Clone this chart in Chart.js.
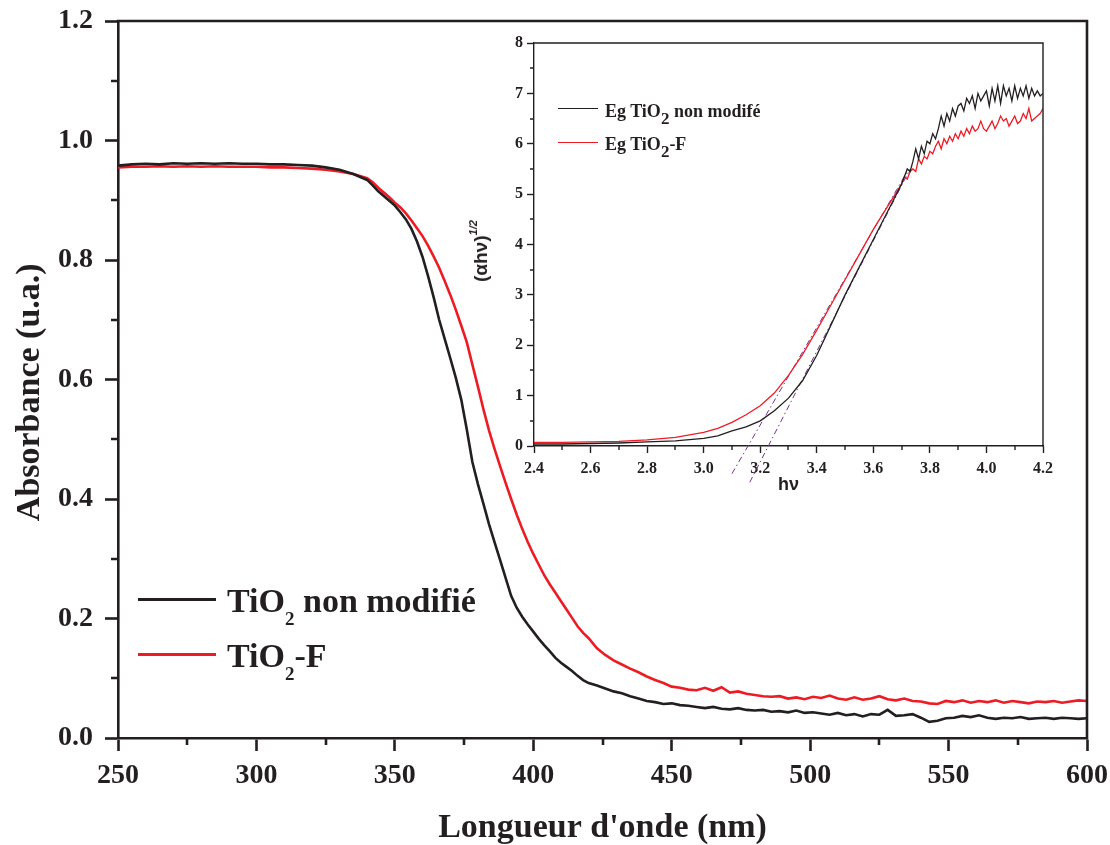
<!DOCTYPE html>
<html>
<head>
<meta charset="utf-8">
<script src="https://cdn.jsdelivr.net/npm/chart.js@4.4.0/dist/chart.umd.min.js"></script>
<style>
body { margin: 0; background: #fff; }
#wrap { position: relative; width: 1110px; height: 845px; overflow: hidden; }
#main { position: absolute; left: 0; top: 0; }
#inset { position: absolute; left: 460px; top: 25px; }
.txt { position: absolute; font-family: "Liberation Serif"; font-weight: bold; color: #231f20; white-space: nowrap; }
.ln { position: absolute; }
.big { font-size: 34px; line-height: 35px; }
.big sub { font-size: 19px; position: relative; top: 13px; vertical-align: baseline; }
.small { font-size: 18px; line-height: 18px; }
.small sub { font-size: 17px; position: relative; top: 7px; vertical-align: baseline; }
#ytitle2 { position: absolute; left: 481px; top: 251px; transform: translate(-50%, -50%) rotate(-90deg);
  font-family: "Liberation Sans"; font-weight: bold; font-size: 19px; color: #231f20; white-space: nowrap; }
#ytitle2 sup { font-size: 11px; font-style: italic; position: relative; top: -3px; vertical-align: top; }
</style>
</head>
<body>
<div id="wrap">
  <canvas id="main" width="1110" height="845"></canvas>
  <canvas id="inset" width="600" height="475"></canvas>

  <div class="ln" style="left:138px;top:598px;width:78px;height:3px;background:#231f20"></div>
  <div class="txt big" style="left:227px;top:583px">TiO<sub>2</sub> non modifié</div>
  <div class="ln" style="left:138px;top:653px;width:78px;height:3px;background:#ed1c24"></div>
  <div class="txt big" style="left:227px;top:638px">TiO<sub>2</sub>-F</div>

  <div class="ln" style="left:558px;top:108px;width:40px;height:1.4px;background:#231f20"></div>
  <div class="txt small" style="left:605px;top:102px">Eg TiO<sub>2</sub> non modifé</div>
  <div class="ln" style="left:558px;top:142px;width:40px;height:1.4px;background:#ed1c24"></div>
  <div class="txt small" style="left:605px;top:135px">Eg TiO<sub>2</sub>-F</div>

  <div id="ytitle2">(&alpha;h&nu;)<sup>1/2</sup></div>
</div>

<script>
// spectre UV-Vis (nm)
var wavelength = [250,255,260,265,270,275,280,285,290,295,300,305,310,315,320,325,330,335,340,
	342,344,346,348,350,352,354,356,358,360,362,364,366,368,370,372,374,376,378,380,
	382,384,386,388,390,392,394,396,398,400,402,404,406,408,410,412,414,416,418,420,
	423,426,429,432,435,438,441,444,447,450,453,456,459,462,465,468,471,474,477,480,
	483,486,489,492,495,498,501,504,507,510,513,516,519,522,525,528,531,534,537,540,
	543,546,549,552,555,558,561,564,567,570,573,576,579,582,585,588,591,594,597,600];

var absNonModifie = [0.958,0.960,0.961,0.960,0.962,0.961,0.962,0.961,0.962,0.961,0.961,0.960,0.960,0.959,0.958,0.955,0.951,0.944,0.934,
	0.925,0.915,0.907,0.899,0.891,0.880,0.868,0.852,0.831,0.805,0.773,0.738,0.700,0.668,0.636,0.603,0.566,0.516,0.462,0.425,
	0.392,0.358,0.328,0.298,0.268,0.238,0.218,0.203,0.190,0.178,0.166,0.155,0.145,0.134,0.126,0.119,0.112,0.104,0.097,0.092,
	0.088,0.083,0.078,0.075,0.070,0.066,0.062,0.060,0.057,0.058,0.055,0.054,0.052,0.050,0.052,0.049,0.048,0.050,0.047,0.046,
	0.047,0.044,0.045,0.043,0.046,0.042,0.043,0.041,0.039,0.042,0.038,0.040,0.036,0.040,0.039,0.047,0.037,0.038,0.040,0.034,
	0.027,0.029,0.033,0.034,0.037,0.035,0.038,0.034,0.032,0.034,0.033,0.035,0.032,0.033,0.034,0.032,0.034,0.033,0.032,0.033];

var absF = [0.955,0.956,0.956,0.957,0.956,0.957,0.956,0.957,0.956,0.956,0.956,0.955,0.955,0.954,0.953,0.951,0.948,0.944,0.937,
	0.930,0.921,0.913,0.905,0.896,0.888,0.878,0.866,0.853,0.840,0.824,0.806,0.787,0.765,0.742,0.717,0.690,0.662,0.625,0.588,
	0.550,0.515,0.484,0.455,0.427,0.400,0.374,0.350,0.328,0.308,0.290,0.272,0.257,0.243,0.229,0.215,0.201,0.187,0.176,0.167,
	0.150,0.139,0.130,0.123,0.116,0.110,0.103,0.097,0.092,0.086,0.084,0.081,0.080,0.084,0.079,0.085,0.076,0.078,0.074,0.072,
	0.070,0.069,0.070,0.066,0.068,0.065,0.069,0.067,0.071,0.066,0.064,0.068,0.064,0.066,0.070,0.065,0.063,0.066,0.062,0.061,
	0.058,0.057,0.062,0.060,0.063,0.059,0.062,0.060,0.063,0.059,0.062,0.060,0.058,0.061,0.060,0.062,0.059,0.061,0.063,0.062];

// encart : (alpha h nu)^1/2 en fonction de h nu (eV)
var energie = [2.40,2.50,2.60,2.70,2.80,2.90,3.00,3.05,3.10,3.15,3.20,3.25,3.30,3.35,3.40,3.45,3.50,3.55,3.60,3.65,
	3.70,3.71,3.72,3.73,3.74,3.75,3.76,3.77,3.78,3.79,3.80,3.81,3.82,3.83,3.84,3.85,3.86,3.87,3.88,3.89,
	3.90,3.91,3.92,3.93,3.94,3.95,3.96,3.97,3.98,3.99,4.00,4.01,4.02,4.03,4.04,4.05,4.06,4.07,4.08,4.09,
	4.10,4.11,4.12,4.13,4.14,4.15,4.16,4.17,4.18,4.19,4.20];

var egNonModifie = [0.04,0.04,0.05,0.06,0.08,0.10,0.15,0.20,0.30,0.38,0.50,0.70,0.95,1.30,1.80,2.40,3.00,3.55,4.10,4.65,
	5.20,5.35,5.50,5.45,5.65,5.90,5.70,5.95,5.80,6.05,6.00,6.20,6.10,6.30,6.55,6.35,6.60,6.45,6.70,6.55,
	6.75,6.80,6.65,6.90,6.80,6.95,6.70,7.00,6.85,6.95,7.05,6.75,7.10,6.85,7.15,6.80,7.15,6.95,7.10,6.85,
	7.15,6.90,7.10,6.95,7.15,6.90,7.10,6.95,7.05,6.95,7.00];

var egF = [0.07,0.07,0.08,0.09,0.12,0.17,0.27,0.35,0.47,0.62,0.80,1.05,1.40,1.82,2.30,2.80,3.30,3.80,4.30,4.75,
	5.20,5.35,5.30,5.45,5.50,5.45,5.70,5.60,5.75,5.70,5.85,5.80,5.95,6.05,5.90,6.10,6.00,6.15,6.05,6.20,
	6.10,6.25,6.15,6.30,6.20,6.35,6.25,6.30,6.45,6.30,6.25,6.35,6.45,6.30,6.40,6.55,6.45,6.50,6.35,6.45,
	6.55,6.40,6.45,6.60,6.50,6.70,6.45,6.50,6.55,6.60,6.70];

// tangentes (extrapolation du gap)
var tangenteF_x = [3.10, 3.72];
var tangenteF_y = [-0.55, 5.45];
var tangenteNM_x = [3.163, 3.73];
var tangenteNM_y = [-0.72, 5.50];

var mainMinorX = [275,325,375,425,475,525,575];
var mainMinorY = [0.1,0.3,0.5,0.7,0.9,1.1];
var insetMinorX = [2.5,2.7,2.9,3.1,3.3,3.5,3.7,3.9,4.1];
var insetMinorY = [0.5,1.5,2.5,3.5,4.5,5.5,6.5,7.5];

var axisColor = '#231f20';

function pts(xs, ys) {
	var out = [];
	for (var i = 0; i < xs.length; i++) {
		out.push({x: xs[i], y: ys[i]});
	}
	return out;
}

// pas de marge automatique pour les libellés : la zone de tracé reste fixe
function noPad(s) {
	s.paddingTop = 0;
	s.paddingBottom = 0;
	s.paddingLeft = 0;
	s.paddingRight = 0;
}

// cadre + petites graduations
var boxTicks = {
	id: 'boxTicks',
	afterDraw: function(chart, args, o) {
		var ctx = chart.ctx;
		var a = chart.chartArea;
		var xs = chart.scales.x, ys = chart.scales.y;
		ctx.save();
		ctx.strokeStyle = axisColor;
		ctx.lineWidth = o.width;
		ctx.beginPath();
		ctx.moveTo(a.left - o.width / 2, a.top);
		ctx.lineTo(a.right, a.top);
		ctx.lineTo(a.right, a.bottom + o.width / 2);
		ctx.stroke();
		ctx.beginPath();
		o.xMinor.forEach(function(v) {
			var px = Math.round(xs.getPixelForValue(v));
			ctx.moveTo(px, a.bottom);
			ctx.lineTo(px, a.bottom + o.len);
		});
		o.yMinor.forEach(function(v) {
			var py = Math.round(ys.getPixelForValue(v));
			ctx.moveTo(a.left, py);
			ctx.lineTo(a.left - o.len, py);
		});
		ctx.stroke();
		ctx.restore();
	}
};

var serif = '"Liberation Serif", "Times New Roman", serif';

new Chart(document.getElementById('main').getContext('2d'), {
	type: 'line',
	data: {
		datasets: [{
			label: 'TiO2 non modifié',
			data: pts(wavelength, absNonModifie),
			borderColor: axisColor,
			borderWidth: 2.6,
			pointRadius: 0,
			tension: 0
		}, {
			label: 'TiO2-F',
			data: pts(wavelength, absF),
			borderColor: '#ed1c24',
			borderWidth: 2.6,
			pointRadius: 0,
			tension: 0
		}]
	},
	options: {
		responsive: false,
		animation: false,
		layout: { padding: { left: 0, top: 21, right: 23, bottom: 0 } },
		plugins: {
			legend: { display: false },
			tooltip: { enabled: false },
			boxTicks: { width: 2.6, len: 7, xMinor: mainMinorX, yMinor: mainMinorY }
		},
		scales: {
			x: {
				type: 'linear',
				min: 250,
				max: 600,
				ticks: {
					stepSize: 50,
					color: axisColor,
					padding: 8,
					font: { family: serif, size: 28, weight: 'bold' }
				},
				grid: { drawOnChartArea: false, tickLength: 13, tickWidth: 2.6, tickColor: axisColor },
				border: { color: axisColor, width: 2.6 },
				title: {
					display: true,
					text: "Longueur d'onde (nm)",
					color: axisColor,
					font: { family: serif, size: 34, weight: 'bold', lineHeight: 1.0 },
					padding: { top: 0, bottom: 0 }
				},
				afterFit: function(s) { s.height = 107; noPad(s); }
			},
			y: {
				min: 0,
				max: 1.2,
				ticks: {
					stepSize: 0.2,
					color: axisColor,
					padding: 12,
					font: { family: serif, size: 28, weight: 'bold' },
					callback: function(v) { return v.toFixed(1); }
				},
				grid: { drawOnChartArea: false, tickLength: 13, tickWidth: 2.6, tickColor: axisColor },
				border: { color: axisColor, width: 2.6 },
				title: {
					display: true,
					text: 'Absorbance (u.a.)   ',
					color: axisColor,
					font: { family: serif, size: 34, weight: 'bold', lineHeight: 1.2 },
					padding: { top: 10, bottom: 0 }
				},
				afterFit: function(s) { s.width = 118; noPad(s); }
			}
		}
	},
	plugins: [boxTicks]
});

new Chart(document.getElementById('inset').getContext('2d'), {
	type: 'line',
	data: {
		datasets: [{
			label: 'Eg TiO2 non modifé',
			data: pts(energie, egNonModifie),
			borderColor: axisColor,
			borderWidth: 1.3,
			pointRadius: 0,
			tension: 0
		}, {
			label: 'Eg TiO2-F',
			data: pts(energie, egF),
			borderColor: '#ed1c24',
			borderWidth: 1.3,
			pointRadius: 0,
			tension: 0
		}, {
			label: 'tangente F',
			data: pts(tangenteF_x, tangenteF_y),
			borderColor: '#7b3294',
			borderWidth: 1,
			borderDash: [6, 3, 1.5, 3],
			pointRadius: 0,
			clip: false
		}, {
			label: 'tangente NM',
			data: pts(tangenteNM_x, tangenteNM_y),
			borderColor: '#7b3294',
			borderWidth: 1,
			borderDash: [6, 3, 1.5, 3],
			pointRadius: 0,
			clip: false
		}]
	},
	options: {
		responsive: false,
		animation: false,
		layout: { padding: { left: 0, top: 18, right: 17, bottom: 0 } },
		plugins: {
			legend: { display: false },
			tooltip: { enabled: false },
			boxTicks: { width: 1.4, len: 4, xMinor: insetMinorX, yMinor: insetMinorY }
		},
		scales: {
			x: {
				type: 'linear',
				min: 2.4,
				max: 4.2,
				ticks: {
					stepSize: 0.2,
					color: axisColor,
					padding: 6,
					font: { family: serif, size: 16, weight: 'bold' },
					callback: function(v) { return v.toFixed(1); }
				},
				grid: { drawOnChartArea: false, tickLength: 7, tickWidth: 1.4, tickColor: axisColor },
				border: { color: axisColor, width: 1.4 },
				title: {
					display: true,
					text: 'hν',
					color: axisColor,
					font: { family: '"Liberation Sans", Arial, sans-serif', size: 18, weight: 'bold', lineHeight: 1.2 },
					padding: { top: 0, bottom: 4 }
				},
				afterFit: function(s) { s.height = 54; noPad(s); }
			},
			y: {
				min: 0,
				max: 8,
				ticks: {
					stepSize: 1,
					color: axisColor,
					padding: 4,
					font: { family: serif, size: 16, weight: 'bold' }
				},
				grid: { drawOnChartArea: false, tickLength: 7, tickWidth: 1.4, tickColor: axisColor },
				border: { color: axisColor, width: 1.4 },
				afterFit: function(s) { s.width = 74; noPad(s); }
			}
		}
	},
	plugins: [boxTicks]
});
</script>
</body>
</html>
